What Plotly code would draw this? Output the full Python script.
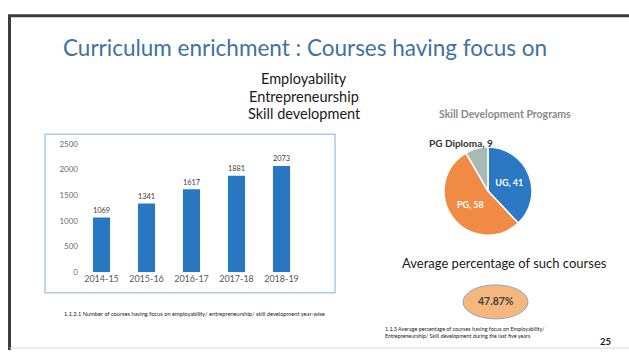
import plotly.graph_objects as go

W, H = 629, 355

# ---- data ----
years = ["2014-15", "2015-16", "2016-17", "2017-18", "2018-19"]
courses = [1069, 1341, 1617, 1881, 2073]
y_ticks = [0, 500, 1000, 1500, 2000, 2500]

prog_labels = ["UG", "PG", "PG Diploma"]
prog_values = [41, 58, 9]
prog_colors = ["#2b78c4", "#f08a45", "#a9b9b4"]

avg_percentage = "47.87%"

title_text = "Curriculum enrichment : Courses having focus on"
subtitle_lines = ["Employability", "Entrepreneurship", "Skill development"]
pie_title = "Skill Development Programs"
avg_title = "Average percentage of such courses"
caption_bar = "1.1.3.1 Number of courses having focus on employability/ entrepreneurship/ skill development year-wise"
caption_avg = ["1.1.3 Average percentage of courses having focus on Employability/",
               "Entrepreneurship/ Skill development during the last five years"]
page_no = "25"


def px(x):
    return x / W


def py(y):
    return 1 - y / H


FONT = "Lato"

fig = go.Figure()

fig.add_trace(go.Bar(
    x=years, y=courses,
    marker=dict(color="#2a77c1", line=dict(width=0)),
    width=0.38,
    text=[str(v) for v in courses],
    textposition="outside",
    textfont=dict(family=FONT, size=9, color="#404040"),
    cliponaxis=False,
    hoverinfo="skip",
))

fig.add_trace(go.Pie(
    labels=prog_labels, values=prog_values,
    sort=False, direction="clockwise", rotation=0,
    marker=dict(colors=prog_colors, line=dict(color="white", width=1.5)),
    texttemplate=["<b>%{label}, %{value}</b>", "<b>%{label}, %{value}</b>", ""],
    textposition="inside",
    insidetextorientation="horizontal",
    textfont=dict(family=FONT, size=9, color="white"),
    domain=dict(x=[px(444), px(532)], y=[py(237), py(146)]),
    showlegend=False,
    hoverinfo="skip",
))

fig.update_layout(
    width=W, height=H,
    margin=dict(l=0, r=0, t=0, b=0),
    paper_bgcolor="white", plot_bgcolor="white",
    showlegend=False,
    xaxis=dict(domain=[px(79), px(304)], range=[-0.5, 4.5],
               showgrid=False, zeroline=False, showline=False,
               ticks="", tickfont=dict(family=FONT, size=9, color="#595959"),
               fixedrange=True),
    yaxis=dict(domain=[py(275), py(143)], range=[0, 2500],
               tickvals=y_ticks, ticktext=[str(v) for v in y_ticks],
               showgrid=False, zeroline=False, showline=False,
               ticks="", tickfont=dict(family=FONT, size=8, color="#6b6b6b"),
               fixedrange=True),
)

shapes = [
    # slide border
    dict(type="line", xref="paper", yref="paper", x0=px(8), x1=1, y0=py(11), y1=py(11),
         line=dict(color="#3c3c3c", width=3)),
    dict(type="line", xref="paper", yref="paper", x0=px(9.5), x1=px(9.5), y0=py(11), y1=0,
         line=dict(color="#3c3c3c", width=3)),
    dict(type="line", xref="paper", yref="paper", x0=px(9.5), x1=1, y0=py(353), y1=py(353),
         line=dict(color="#d8d8d8", width=1)),
    # bar chart frame
    dict(type="rect", xref="paper", yref="paper", x0=px(45), x1=px(335), y0=py(296), y1=py(133),
         line=dict(color="#a9cbe8", width=1.5)),
    # ellipse
    dict(type="circle", xref="paper", yref="paper", x0=px(463), x1=px(528), y0=py(323), y1=py(288),
         fillcolor="#f6b77f", line=dict(color="#8fa6bd", width=1)),
]
fig.update_layout(shapes=shapes)


def note(text, x, y, size, color, xanchor="center", align="center"):
    return dict(text=text, x=px(x), y=py(y), xref="paper", yref="paper",
                xanchor=xanchor, yanchor="middle", align=align, showarrow=False,
                font=dict(family=FONT, size=size, color=color))


ann = [note(title_text, 305, 44, 22.5, "#3f72a0")]
for i, t in enumerate(subtitle_lines):
    ann.append(note(t, 304, 76 + 18 * i, 14.5, "#1a1a1a"))
ann.append(note("<b>" + pie_title + "</b>", 505, 112, 10.5, "#8a8a8a"))
ann.append(note("<b>%s, %d</b>" % (prog_labels[2], prog_values[2]), 461, 142, 10, "#333333"))
ann.append(note(avg_title, 504, 265, 13, "#1a1a1a"))
ann.append(note("<b>" + avg_percentage + "</b>", 496, 305, 10.5, "#404040"))
ann.append(note(caption_bar, 62, 317, 5.7, "#222222", xanchor="left", align="left"))
ann.append(note("<br>".join(caption_avg), 383, 337, 5.4, "#222222", xanchor="left", align="left"))
ann.append(note("<b>" + page_no + "</b>", 605, 346, 9.5, "#1a1a1a"))
fig.update_layout(annotations=ann)

fig.write_html("out.html", config=dict(displayModeBar=False))
